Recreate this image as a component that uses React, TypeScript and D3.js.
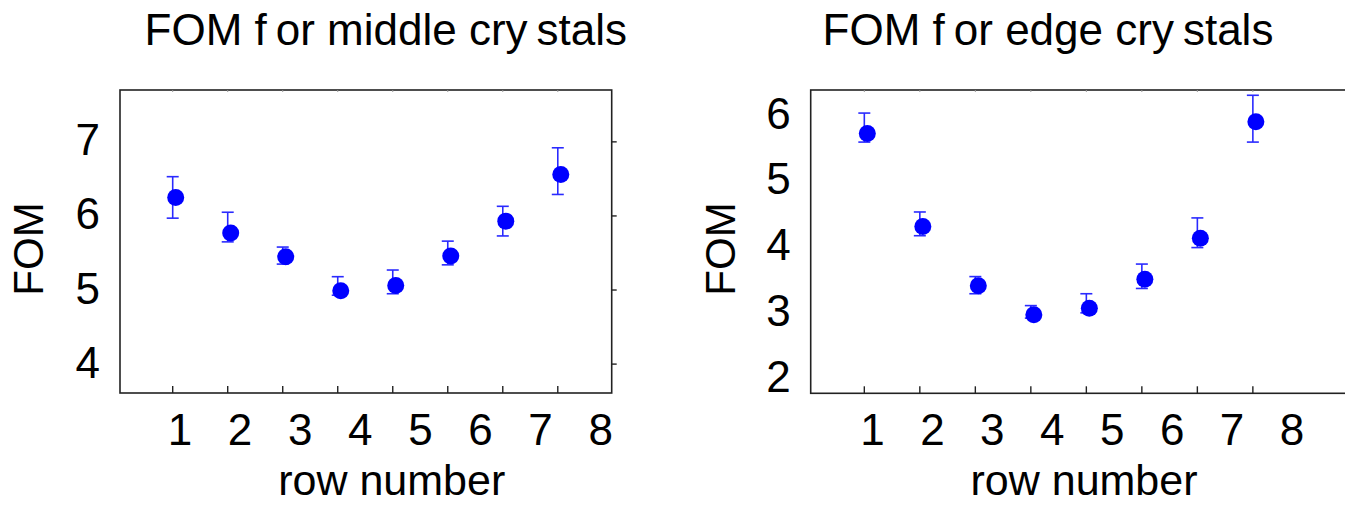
import React from "react";
import * as d3 from "d3";

const rows = [1, 2, 3, 4, 5, 6, 7, 8];
const middleFom = [6.25, 5.77, 5.45, 4.99, 5.06, 5.46, 5.93, 6.56];
const middleUpper = [6.53, 6.05, 5.58, 5.18, 5.27, 5.66, 6.13, 6.92];
const middleLower = [5.97, 5.65, 5.35, 4.93, 4.95, 5.34, 5.73, 6.29];
const edgeFom = [5.72, 4.31, 3.41, 2.97, 3.07, 3.51, 4.13, 5.9];
const edgeUpper = [6.03, 4.53, 3.55, 3.11, 3.29, 3.74, 4.44, 6.3];
const edgeLower = [5.59, 4.17, 3.29, 2.92, 3.0, 3.37, 3.99, 5.59];
const middleYTicks = [4, 5, 6, 7];
const edgeYTicks = [2, 3, 4, 5, 6];
const titleParts1 = ["FOM f", "or middle cry", "stals"];
const titleParts2 = ["FOM f", "or edge cry", "stals"];

const FONT = "'Liberation Sans', Arial, Helvetica, sans-serif";
const BLUE = "#0000ff";
const BAR = "#2a2aff";

type PanelProps = {
  left: number;
  right: number;
  top: number;
  bottom: number;
  xDomain: [number, number];
  yDomain: [number, number];
  labelRange: [number, number];
  yTicks: number[];
  rightTicks: boolean;
  fom: number[];
  upper: number[];
  lower: number[];
  titleParts: string[];
  titleX: number;
  yTitleX: number;
  xTitleX: number;
};

function Panel(p: PanelProps) {
  const x = d3.scaleLinear().domain(p.xDomain).range([p.left, p.right]);
  const y = d3.scaleLinear().domain(p.yDomain).range([p.bottom, p.top]);
  const xl = d3.scaleLinear().domain([1, 8]).range(p.labelRange);
  const cap = 6;
  const dotDx = 3;
  return (
    <g>
      <rect
        x={p.left}
        y={p.top}
        width={p.right - p.left}
        height={p.bottom - p.top}
        fill="none"
        stroke="#222"
        strokeWidth={1.6}
      />
      {rows.map((r) => (
        <g key={"xt" + r}>
          <line x1={x(r)} x2={x(r)} y1={p.bottom} y2={p.bottom - 7} stroke="#222" strokeWidth={1.4} />
          <line x1={x(r)} x2={x(r)} y1={p.top} y2={p.top + 2} stroke="#999" strokeWidth={1} />
          <text x={xl(r)} y={445} textAnchor="middle" fontSize={44} fontFamily={FONT} fill="#000">
            {r}
          </text>
        </g>
      ))}
      {p.yTicks.map((t) => (
        <g key={"yt" + t}>
          {p.rightTicks && (
            <line x1={p.right} x2={p.right + 5} y1={y(t)} y2={y(t)} stroke="#222" strokeWidth={1.4} />
          )}
          <text
            x={p.left - 20}
            y={y(t) - 2}
            textAnchor="end"
            dominantBaseline="central"
            fontSize={44}
            fontFamily={FONT}
            fill="#000"
          >
            {t}
          </text>
        </g>
      ))}
      {rows.map((r, i) => (
        <g key={"pt" + r}>
          <line x1={x(r)} x2={x(r)} y1={y(p.upper[i])} y2={y(p.lower[i])} stroke={BAR} strokeWidth={1.6} />
          <line x1={x(r) - cap} x2={x(r) + cap} y1={y(p.upper[i])} y2={y(p.upper[i])} stroke={BAR} strokeWidth={1.6} />
          <line x1={x(r) - cap} x2={x(r) + cap} y1={y(p.lower[i])} y2={y(p.lower[i])} stroke={BAR} strokeWidth={1.6} />
          <circle cx={x(r) + dotDx} cy={y(p.fom[i])} r={8.5} fill={BLUE} />
        </g>
      ))}
      <text x={p.titleX} y={45} textAnchor="middle" fontSize={44} fontFamily={FONT} fill="#000">
        <tspan>{p.titleParts[0]}</tspan>
        <tspan dx={9}>{p.titleParts[1]}</tspan>
        <tspan dx={9}>{p.titleParts[2]}</tspan>
      </text>
      <text
        transform={`translate(${p.yTitleX},249) rotate(-90)`}
        textAnchor="middle"
        fontSize={42}
        fontFamily={FONT}
        fill="#000"
      >
        FOM
      </text>
      <text x={p.xTitleX} y={495} textAnchor="middle" fontSize={43} fontFamily={FONT} fill="#000">
        row number
      </text>
    </g>
  );
}

export default function App() {
  return (
    <svg
      width={1345}
      height={512}
      style={{ position: "absolute", left: 0, top: 0, background: "#fff" }}
    >
      <rect x={0} y={0} width={1345} height={512} fill="#fff" />
      <Panel
        left={120}
        right={611.7}
        top={90}
        bottom={393}
        xDomain={[0.042, 8.98]}
        yDomain={[3.61, 7.7]}
        labelRange={[180, 600.7]}
        yTicks={middleYTicks}
        rightTicks={true}
        fom={middleFom}
        upper={middleUpper}
        lower={middleLower}
        titleParts={titleParts1}
        titleX={385.8}
        yTitleX={43.3}
        xTitleX={391.7}
      />
      <Panel
        left={810.7}
        right={1350}
        top={90}
        bottom={393.3}
        xDomain={[0.034, 9.75]}
        yDomain={[1.78, 6.38]}
        labelRange={[872.5, 1292]}
        yTicks={edgeYTicks}
        rightTicks={false}
        fom={edgeFom}
        upper={edgeUpper}
        lower={edgeLower}
        titleParts={titleParts2}
        titleX={1048}
        yTitleX={735}
        xTitleX={1084}
      />
    </svg>
  );
}
